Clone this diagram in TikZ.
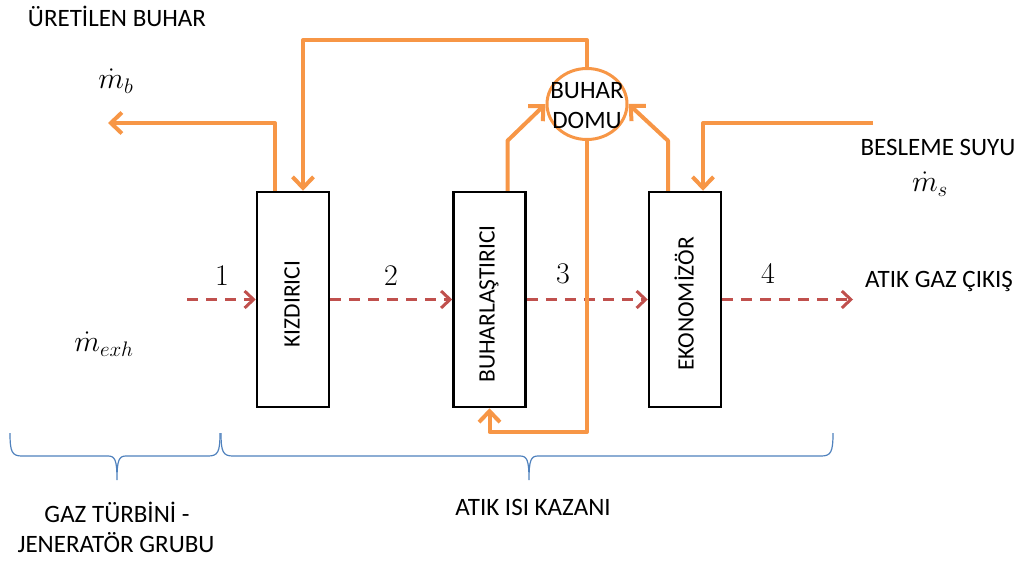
\RequirePackage{fix-cm}
\documentclass[tikz,border=0pt]{standalone}
\usepackage{fontspec}
\setmainfont{Carlito}
\usetikzlibrary{arrows.meta,shapes.geometric,calc}
\definecolor{steamor}{RGB}{247,150,70}
\definecolor{gasred}{RGB}{192,80,77}
\definecolor{braceblue}{RGB}{79,129,189}
% enlarged math for the flow-rate symbols and station numbers
\newcommand{\bigmath}[1]{\scalebox{1.2}{$#1$}}

\begin{document}
\begin{tikzpicture}[x=1pt,y=-1pt,
  lbl/.style={font=\fontsize{25}{30}\selectfont, inner sep=0pt},
  mth/.style={font=\fontsize{25}{30}\selectfont, inner sep=0pt},
  num/.style={font=\fontsize{25}{30}\selectfont, inner sep=0pt, anchor=base},
  unit/.style={draw=black, line width=2.5pt, minimum width=72pt, minimum height=215pt,
    inner sep=0pt},
  vtxt/.style={rotate=90, inner sep=0pt, font=\fontsize{23.5}{28}\selectfont},
  drum/.style={ellipse, draw=steamor, line width=3pt, minimum width=80pt,
    minimum height=71pt, inner sep=0pt},
  pipe/.style={draw=steamor, line width=4pt, line join=round,
    -{Straight Barb[length=11pt,width=21pt]}},
  gas/.style={draw=gasred, line width=3pt, dash pattern=on 11pt off 8pt,
    -{Straight Barb[length=9pt,width=17pt]}},
  brace/.style={draw=braceblue, line width=1.2pt}]
\useasboundingbox (0,0) rectangle (1019,563);

% heat exchanger sections of the recovery boiler
\node[unit] (kiz) at (293,299.5) {};
\node[unit] (buh) at (489.5,299.5) {};
\node[unit] (eko) at (685,299.5) {};
\node[vtxt] (kizt) at (292,304) {KIZDIRICI};
\node[vtxt] (buht) at (489,304) {BUHARLAŞTIRICI};
\node[vtxt] (ekot) at (684,304) {EKONOMİZÖR};

% steam drum
\node[drum] (dom) at (587,104) {};
\node[lbl, align=center] (domtxt) at (587,106) {BUHAR\\DOMU};

% free ends of the connectors
\coordinate (gin) at (187,299.5);
\coordinate (gout) at (853,299.5);
\coordinate (outB) at (108,123);
\coordinate (feedin) at (873,123);
\coordinate (topY) at (0,40);
\coordinate (botY) at (0,432);

% exhaust gas path
\draw[gas] (gin) -- (kiz.west);
\draw[gas] (kiz.east) -- (buh.west);
\draw[gas] (buh.east) -- (eko.west);
\draw[gas] (eko.east) -- (gout);

% water / steam circuit
\draw[pipe] ([xshift=-18pt]kiz.north) |- (outB);
\draw[pipe] (dom.north) -- (dom.north |- topY) -| ([xshift=10pt]kiz.north);
\draw[pipe] ([xshift=18pt]buh.north) -- ++(0,-50) -- (dom.west);
\draw[pipe] ([xshift=-17pt]eko.north) -- ++(0,-50) -- (dom.east);
\draw[pipe] (feedin) -| ([xshift=18pt]eko.north);
\draw[pipe] (dom.south) -- (dom.south |- botY) -| (buh.south);

% labels
\node[lbl, anchor=base] (tUretilen) at (117,26) {ÜRETİLEN BUHAR};
\node[mth] (tmb) at (116,81) {\bigmath{\dot m_b}};
\node[mth] (tmexh) at (104,344) {\bigmath{\dot m_{exh}}};
\node[lbl, anchor=base] (tBesleme) at (938,155) {BESLEME SUYU};
\node[mth] (tms) at (930,184) {\bigmath{\dot m_s}};
\node[lbl, anchor=base] (tCikis) at (939,287) {ATIK GAZ ÇIKIŞ};
\node[num] (n1) at (222,285) {\bigmath{1}};
\node[num] (n2) at (391,285) {\bigmath{2}};
\node[num] (n3) at (563,283) {\bigmath{3}};
\node[num] (n4) at (768,283) {\bigmath{4}};

% group braces
\draw[brace] (10,433) .. controls (10,452) and (12,456) .. (22,456) -- (108,456)
  .. controls (115,456) and (117,460) .. (117,480)
  .. controls (117,460) and (119,456) .. (126,456) -- (208,456)
  .. controls (218,456) and (220,452) .. (220,433);
\draw[brace] (221,433) .. controls (221,452) and (223,456) .. (233,456) -- (520,456)
  .. controls (527,456) and (529,460) .. (529,480)
  .. controls (529,460) and (531,456) .. (538,456) -- (821,456)
  .. controls (831,456) and (833,452) .. (833,433);

\node[lbl, anchor=base] (tGaz1) at (117,522) {GAZ TÜRBİNİ -};
\node[lbl, anchor=base] (tGaz2) at (116,552) {JENERATÖR GRUBU};
\node[lbl, anchor=base] (tKazan) at (533,515) {ATIK ISI KAZANI};
\end{tikzpicture}
\end{document}
